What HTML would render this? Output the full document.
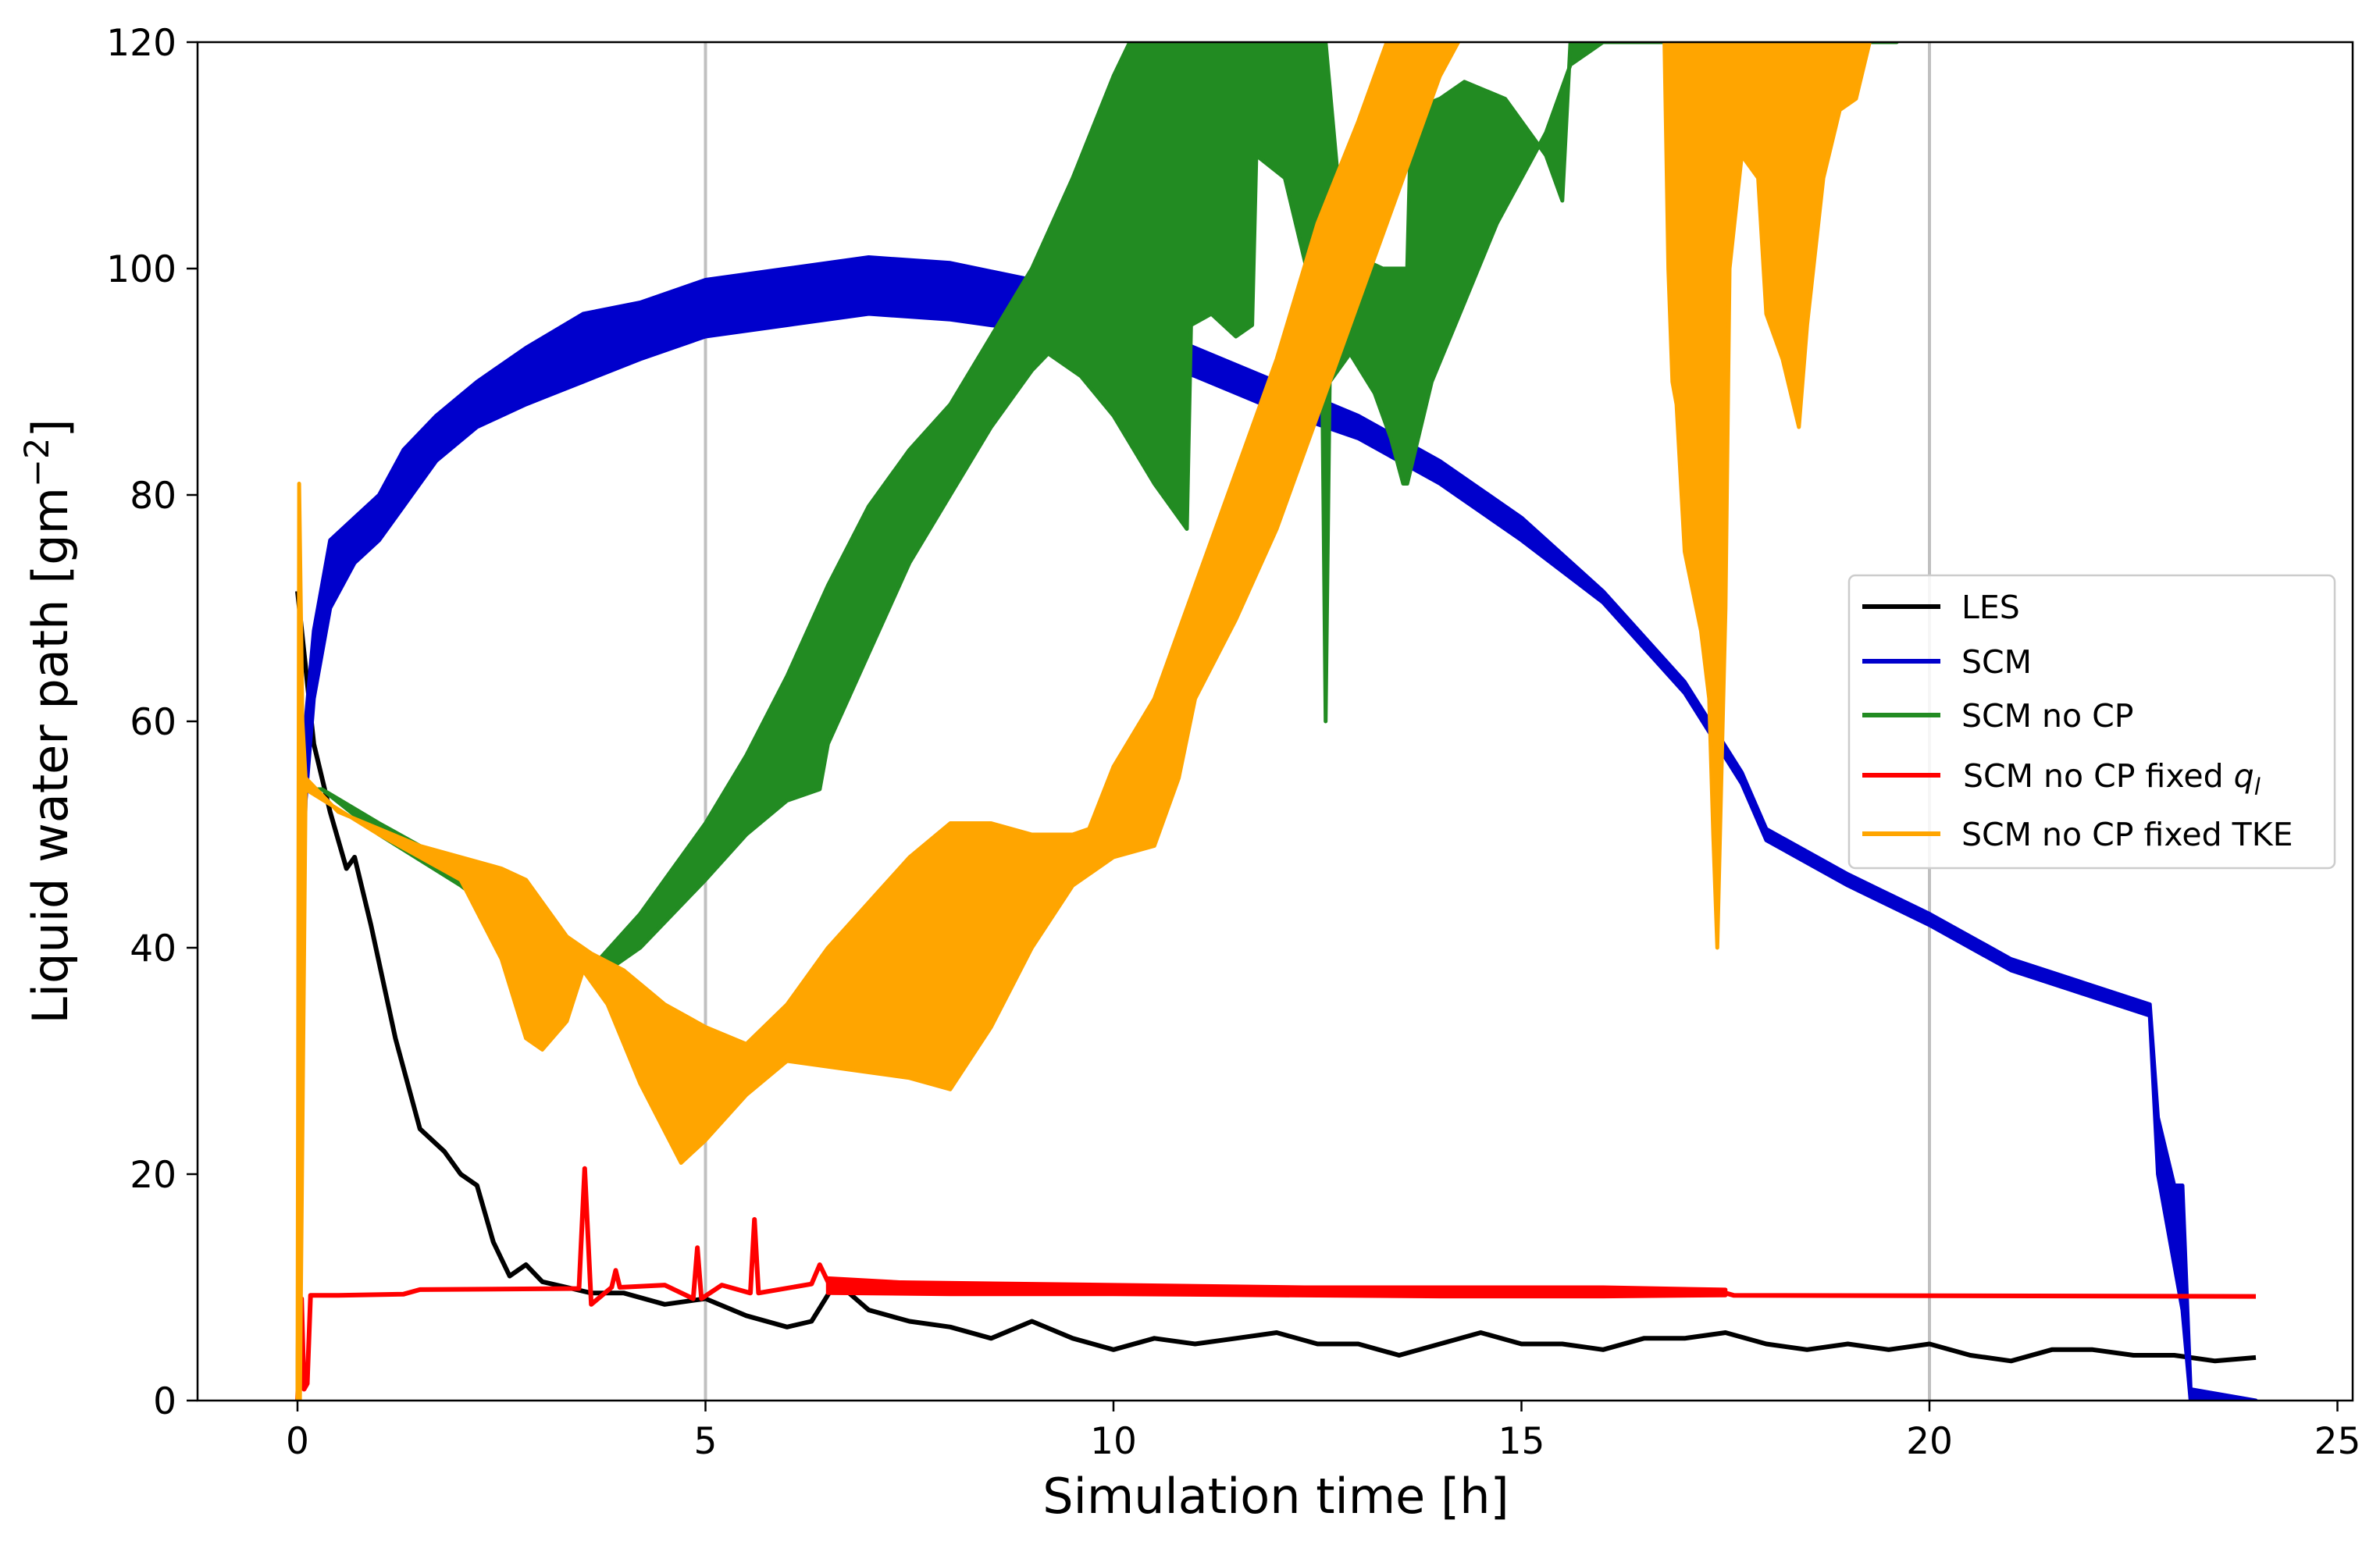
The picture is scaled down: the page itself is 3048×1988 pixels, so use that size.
<!DOCTYPE html>
<html><head><meta charset="utf-8"><style>
html,body{margin:0;padding:0;background:#fff;}
svg{display:block;font-family:"DejaVu Sans","Liberation Sans",sans-serif;}
</style></head><body>
<svg id="chart" width="3048" height="1988" viewBox="0 0 3048 1988" xmlns="http://www.w3.org/2000/svg">
<defs><clipPath id="clip"><rect x="253" y="54" width="2760" height="1740"/></clipPath></defs>
<rect x="0" y="0" width="3048" height="1988" fill="#fff"/>
<g id="grid"></g>
<g id="series" clip-path="url(#clip)"></g>
<rect x="253" y="54" width="2760" height="1740" fill="none" stroke="#000" stroke-width="2.5"/>
<g id="axes"></g>
<text x="1634" y="1938" font-size="62" text-anchor="middle" fill="#000">Simulation time [h]</text>
<text transform="translate(86,924) rotate(-90)" font-size="62" text-anchor="middle" fill="#000">Liquid water path [gm<tspan dy="-24" font-size="43">−2</tspan><tspan dy="24">]</tspan></text>
<g>
<rect x="2368" y="737" width="622" height="375" rx="8" fill="#fff" fill-opacity="0.85" stroke="#ccc" stroke-width="2.5"/>
<g><line x1="2385" y1="777" x2="2485" y2="777" stroke="#000" stroke-width="6"/><text x="2512" y="792" font-size="41">LES</text></g>
<g><line x1="2385" y1="847" x2="2485" y2="847" stroke="#0000cc" stroke-width="6"/><text x="2512" y="862" font-size="41">SCM</text></g>
<g><line x1="2385" y1="916" x2="2485" y2="916" stroke="#228b22" stroke-width="6"/><text x="2512" y="931" font-size="41">SCM no CP</text></g>
<g><line x1="2385" y1="993" x2="2485" y2="993" stroke="#ff0000" stroke-width="6"/><text x="2514" y="1008" font-size="41">SCM no CP fixed <tspan font-style="italic">q</tspan><tspan font-style="italic" font-size="29" dy="10">l</tspan></text></g>
<g><line x1="2385" y1="1068" x2="2485" y2="1068" stroke="#ffa500" stroke-width="6"/><text x="2512" y="1083" font-size="41">SCM no CP fixed TKE</text></g>
</g>
</svg>
<script>
const xTicks=[0,5,10,15,20,25];
const yTicks=[0,20,40,60,80,100,120];
const vGrid=[5,20];
const lesT=[0,0.2,0.4,0.6,0.7,0.9,1.2,1.5,1.8,2.0,2.2,2.4,2.6,2.8,3.0,3.3,3.6,4,4.5,5,5.5,6,6.3,6.6,7,7.5,8,8.5,9,9.5,10,10.5,11,11.5,12,12.5,13,13.5,14,14.5,15,15.5,16,16.5,17,17.5,18,18.5,19,19.5,20,20.5,21,21.5,22,22.5,23,23.5,24];
const lesV=[71.5,58,52,47,48,42,32,24,22,20,19,14,11,12,10.5,10,9.5,9.5,8.5,9,7.5,6.5,7,10.5,8,7,6.5,5.5,7,5.5,4.5,5.5,5,5.5,6,5,5,4,5,6,5,5,4.5,5.5,5.5,6,5,4.5,5,4.5,5,4,3.5,4.5,4.5,4,4,3.5,3.8];
const scmT=[0,0.05,0.1,0.2,0.4,0.7,1.0,1.3,1.7,2.2,2.8,3.5,4.2,5,6,7,8,9,10,11,12,13,14,15,16,17,17.7,18,19,20,21,22.7,22.8,23,23.1,23.2,24];
const scmLo=[0,40,53,62,70,74,76,79,83,86,88,90,92,94,95,96,95.5,94.5,93,90.5,87.5,85,81,76,70.5,62.5,54.5,49.5,45.5,42,38,34,20,12,8,0,0];
const scmHi=[0,60,60,68,76,78,80,84,87,90,93,96,97,99,100,101,100.5,99,96,93,90,87,83,78,71.5,63.5,55.5,50.5,46.5,43,39,35,25,19,19,1,0];
const grnUpT=[0,0.05,0.3,1,2,3,3.7,4.2,4.6,5,5.5,6,6.5,7,7.5,8,8.5,9,9.5,10,10.2,12.6,12.75,13.0,13.3,13.6,13.65,14,14.3,14.8,15.3,15.5,15.6,19.6];
const grnUpV=[0,54,54,51,47,42,39,43,47,51,57,64,72,79,84,88,94,100,108,117,120,120,108,101,100,100,114,115,116.5,115,110,106,120,120];
const grnLoT=[0,0.05,0.3,1,2,3,3.7,4.2,4.6,5,5.5,6,6.4,6.5,7,7.5,8,8.5,9,9.2,9.6,10,10.5,10.9,10.95,11.2,11.5,11.7,11.75,12.1,12.4,12.55,12.6,12.65,12.9,13.2,13.4,13.55,13.6,13.9,14.3,14.7,15.0,15.3,15.6,16,19.6];
const grnLoV=[0,54,54,50,45.5,40,37.5,40,43,46,50,53,54,58,66,74,80,86,91,92.5,90.5,87,81,77,95,96,94,95,110,108,99,96,60,90,92.5,89,85,81,81,90,97,104,108,112,118,120,120];
const redT=[0,0.05,0.08,0.12,0.16,0.5,1.3,1.5,3.45,3.52,3.6,3.85,3.9,3.95,4.5,4.85,4.9,4.95,5.2,5.55,5.6,5.65,6.3,6.4,6.5,17.5,17.6,24];
const redV=[0,9,1,1.5,9.3,9.3,9.4,9.8,9.9,20.5,8.5,10,11.5,10,10.2,9,13.5,9,10.2,9.5,16,9.5,10.3,12,10.5,9.5,9.3,9.2];
const redBandT=[6.5,8,10,12,14,16,17.5];
const redBandLo=[9.5,9.4,9.4,9.3,9.2,9.2,9.3];
const redBandHi=[10.8,10.2,10.1,10.0,10.0,10.0,9.8];
const orgUpT=[0,0.02,0.06,0.1,0.5,1.5,2.5,2.8,3.3,3.6,4,4.5,5,5.5,6,6.5,7,7.5,8,8.5,9,9.5,9.7,10,10.5,11,11.5,12,12.5,13,13.4];
const orgUpV=[0,81,60,55,52,49,47,46,41,39.5,38,35,33,31.5,35,40,44,48,51,51,50,50,50.5,56,62,72,82,92,104,113,121];
const orgLoT=[0,0.03,0.1,1,2,2.5,2.8,3.0,3.3,3.5,3.8,4.2,4.7,5,5.5,6,6.5,7,7.5,8,8.5,9,9.5,10,10.5,10.8,11,11.5,12,12.5,13,13.5,14,14.3];
const orgLoV=[0,0,54,50,46,39,32,31,33.5,38,35,28,21,23,27,30,29.5,29,28.5,27.5,33,40,45.5,48,49,55,62,69,77,87,97,107,117,121];
const org2T=[16.75,16.8,16.85,16.9,17.0,17.2,17.3,17.35,17.4,17.45,17.5,17.55,17.7,17.9,18.0,18.2,18.4,18.5,18.7,18.9,19.1,19.3];
const org2V=[121,100,90,88,75,68,62,50,40,55,70,100,110,108,96,92,86,95,108,114,115,121];
const X=t=>381+104.5*t, Y=v=>1794-14.5*v;
const NS='http://www.w3.org/2000/svg';
const grid=document.getElementById('grid'),ser=document.getElementById('series'),axes=document.getElementById('axes');
function mk(tag,parent,attrs){const e=document.createElementNS(NS,tag);for(const k in attrs)e.setAttribute(k,attrs[k]);parent.appendChild(e);return e;}
vGrid.forEach(t=>{const l=mk('line',grid,{x1:X(t),x2:X(t),y1:54,y2:1794,stroke:'#c0c0c0','stroke-width':4});

});
xTicks.forEach(t=>{const l=mk('line',axes,{x1:X(t),x2:X(t),y1:1794,y2:1808,stroke:'#000','stroke-width':2.5});


const tx=mk('text',axes,{x:X(t),y:1862,'font-size':47,'text-anchor':'middle'});tx.textContent=t;

});
yTicks.forEach(v=>{const l=mk('line',axes,{x1:239,x2:253,y1:Y(v),y2:Y(v),stroke:'#000','stroke-width':2.5});


const tx=mk('text',axes,{x:226,y:Y(v)+17,'font-size':47,'text-anchor':'end'});tx.textContent=v;

});
function line(T,V,color,w,name){const d=T.map((t,i)=>(i?'L':'M')+X(t).toFixed(1)+','+Y(V[i]).toFixed(1)).join('');
const p=mk('path',ser,{d:d,fill:'none',stroke:color,'stroke-width':w,'stroke-linejoin':'round'});

return p;}
function band(Tu,Vu,Tl,Vl,color,name){let pts=Tu.map((t,i)=>X(t).toFixed(1)+','+Y(Vu[i]).toFixed(1));
for(let i=Tl.length-1;i>=0;i--)pts.push(X(Tl[i]).toFixed(1)+','+Y(Vl[i]).toFixed(1));
const p=mk('polygon',ser,{points:pts.join(' '),fill:color,stroke:color,'stroke-width':5,'stroke-linejoin':'round'});

return p;}
line(lesT,lesV,'#000',6,'les-line');
band(scmT,scmHi,scmT,scmLo,'#0000cc','scm-band');
band(grnUpT,grnUpV,grnLoT,grnLoV,'#228b22','scm-no-cp-band');
band(redBandT,redBandHi,redBandT,redBandLo,'#ff0000','fixed-ql-oscillation');
line(redT,redV,'#ff0000',6,'fixed-ql-line');
band(orgUpT,orgUpV,orgLoT,orgLoV,'#ffa500','fixed-tke-band');
band(org2T,org2T.map(()=>121),org2T,org2V,'#ffa500','fixed-tke-late-band');
</script>
</body></html>
